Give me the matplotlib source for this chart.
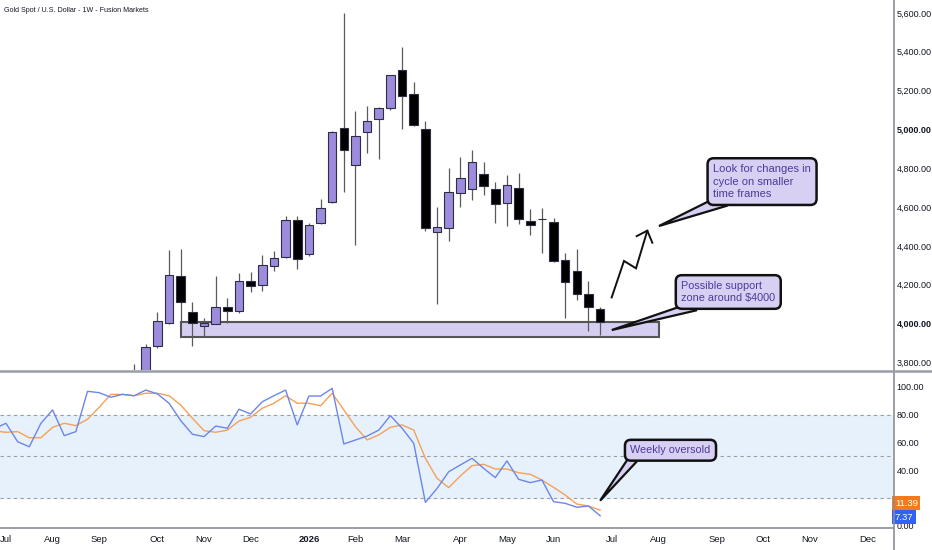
import matplotlib
matplotlib.use("Agg")
import matplotlib.pyplot as plt
from matplotlib.patches import Rectangle, Polygon
from matplotlib.lines import Line2D
import numpy as np

plt.rcParams['font.family'] = ['Liberation Sans Narrow', 'Liberation Sans', 'DejaVu Sans']

# weekly bars, index 0 = first week of Jul 2025
candle_idx = list(range(11, 52))
opens = [3745, 3755, 3883, 4000, 4246, 4060, 3986, 3998, 4083, 4065,
         4220, 4196, 4296, 4341, 4533, 4356, 4519, 4627, 5009, 4815,
         4985, 5052, 5109, 5305, 5181, 5000, 4470, 4490, 4671, 4694,
         4768, 4693, 4619, 4699, 4528, 4540, 4521, 4327, 4270, 4150, 4076]
highs = [3790, 3895, 4057, 4378, 4382, 4109, 4026, 4244, 4129, 4261,
         4263, 4352, 4375, 4554, 4554, 4516, 4641, 4990, 5602, 5095,
         5121, 5114, 5280, 5423, 5243, 5045, 4601, 4799, 4859, 4894,
         4830, 4730, 4763, 4777, 4588, 4593, 4545, 4361, 4382, 4218, 4083]
lows = [3700, 3740, 3875, 3995, 4008, 3885, 3928, 3995, 4000, 4055,
        4163, 4168, 4272, 4335, 4279, 4347, 4515, 4622, 4679, 4404,
        4880, 4846, 5100, 5002, 5017, 4478, 4100, 4425, 4601, 4636,
        4662, 4516, 4504, 4512, 4456, 4364, 4315, 4026, 4121, 3962, 3940]
closes = [3755, 3880, 4014, 4249, 4110, 4004, 4000, 4083, 4062, 4218,
          4194, 4299, 4335, 4533, 4330, 4506, 4593, 4988, 4894, 4966,
          5042, 5109, 5279, 5171, 5021, 4490, 4495, 4676, 4748, 4832,
          4710, 4614, 4715, 4540, 4509, 4537, 4323, 4215, 4151, 4083, 4007]

# stochastic RSI, index -1 .. 51
stoch_idx = list(range(-1, 52))
stoch_k = [70, 73.9, 60.6, 57, 73.9, 83.5, 65, 67.9, 96.9, 95.9,
           92.6, 94.7, 93.7, 97.8, 95, 88.3, 75.8, 66, 64.3, 71.9,
           70.3, 84, 80.6, 89.4, 93.7, 97.8, 72.7, 93.5, 93.5, 99,
           59, 61.9, 64.7, 69, 79.4, 70.3, 59.5, 17, 27, 39,
           43.9, 48.7, 41.5, 34.8, 46.8, 33.6, 31.2, 33.1, 17.5, 16.3,
           13.5, 14.4, 7.37]
stoch_d = [68.4, 67.4, 67.9, 63.5, 63.5, 71, 73.9, 72.2, 76.8, 85.4,
           94.7, 94.7, 93.7, 95.5, 95.5, 93.7, 87, 77.5, 68.6, 67.4,
           69, 75.5, 78.2, 84.7, 88.3, 93.7, 88.3, 88.3, 86.5, 95.5,
           83.5, 71.4, 61.9, 65.5, 71, 72.7, 69, 48.7, 34.3, 27.6,
           36, 43.4, 44.4, 41, 41, 38.3, 37.2, 33.1, 27.8, 22.3,
           15.8, 14.4, 11.39]

month_idx = [0, 4, 8, 13, 17, 21, 26, 30, 34, 39, 43, 47, 52, 56, 61, 65, 69, 74]
month_labels = ['Jul', 'Aug', 'Sep', 'Oct', 'Nov', 'Dec', '2026', 'Feb', 'Mar',
                'Apr', 'May', 'Jun', 'Jul', 'Aug', 'Sep', 'Oct', 'Nov', 'Dec']
price_ticks = [3800, 4000, 4200, 4400, 4600, 4800, 5000, 5200, 5400, 5600]
osc_ticks = [0, 20, 40, 60, 80, 100]

PURPLE = '#9d8bdb'
LAV = '#d8d0f3'
TXT = '#131722'
NOTE = '#4a3b9c'
GRID = '#9a9da6'

W, H = 932, 550
fig = plt.figure(figsize=(W / 100, H / 100), dpi=100)


def px_rect(x0, y0, x1, y1):
    return [x0 / W, 1 - y1 / H, (x1 - x0) / W, (y1 - y0) / H]


ax = fig.add_axes(px_rect(0, 0, 893, 370))
ax2 = fig.add_axes(px_rect(0, 371, 893, 528), sharex=ax)

# candles
o = np.array(opens, float)
c = np.array(closes, float)
up = c >= o
cols = np.where(up, PURPLE, '#000000')
ax.vlines(candle_idx, lows, highs, color='#5a5a5a', lw=0.9, zorder=2)
ax.bar(candle_idx, np.maximum(np.abs(c - o), 2.5), width=0.74,
       bottom=np.minimum(o, c), color=cols, edgecolor='#2f2d45',
       linewidth=0.8, zorder=3)

# support zone
ax.add_patch(Rectangle((15.02, 3930), 41.03, 77, fc='#d6cef0', ec='#555555',
                       lw=1.5, zorder=1))

# zigzag arrow
zx = [51.99, 53.05, 54.08, 55.05]
zy = [4134, 4322, 4284, 4478]
ax.plot(zx, zy, color='#111111', lw=1.4, zorder=4, solid_joinstyle='miter')
ax.plot([54.14, 55.05, 55.48], [4450, 4478, 4416], color='#111111', lw=1.4,
        zorder=4)


def callout(axis, cx, cy, text, tail, size):
    axis.add_patch(Polygon(tail, closed=True, fc=LAV, ec='#111111', lw=1.6,
                           zorder=5, joinstyle='miter'))
    axis.text(cx, cy, text, ha='center', va='center', multialignment='left',
              color=NOTE, fontsize=size, zorder=6, linespacing=1.35,
              bbox=dict(boxstyle='round,pad=0.5,rounding_size=0.55', fc=LAV,
                        ec='#111111', lw=1.8))


callout(ax, 64.9, 4731, 'Look for changes in\ncycle on smaller\ntime frames',
        [(56.05, 4502), (61.0, 4650), (61.8, 4605)], 8.0)
callout(ax, 62.0, 4162, 'Possible support\nzone around $4000',
        [(52.0, 3966), (58.5, 4100), (59.3, 4068)], 7.8)
callout(ax2, 57.04, 54.5, 'Weekly oversold',
        [(51.0, 18.2), (53.6, 51), (54.1, 46)], 7.8)

ax.set_xlim(-0.515, 76.14)
ax.set_ylim(3760, 5667)
ax.yaxis.tick_right()
ax.set_yticks(price_ticks)
ax.set_yticklabels([f'{v:,.2f}' for v in price_ticks])
for lab, v in zip(ax.get_yticklabels(), price_ticks):
    if v in (4000, 5000):
        lab.set_fontweight('bold')
ax.tick_params(axis='y', length=0, pad=2.5, labelsize=6.5, labelcolor=TXT)
ax.tick_params(axis='x', length=0, labelbottom=False)
for s in ax.spines.values():
    s.set_visible(False)

# oscillator panel
ax2.axhspan(20, 80, color='#e7f1fc', zorder=0)
for lvl in (20, 50, 80):
    ax2.axhline(lvl, color=GRID, lw=0.8, ls=(0, (3, 3)), zorder=1)
ax2.plot(stoch_idx, stoch_k, color='#6c86ea', lw=1.0, zorder=3)
ax2.plot(stoch_idx, stoch_d, color='#f6a058', lw=1.0, zorder=2)
ax2.set_ylim(-1.44, 111.5)
ax2.yaxis.tick_right()
ax2.set_yticks(osc_ticks)
ax2.set_yticklabels([f'{v:.2f}' for v in osc_ticks])
ax2.tick_params(axis='y', length=0, pad=2.5, labelsize=6.5, labelcolor=TXT)
ax2.set_xticks(month_idx)
ax2.set_xticklabels(month_labels)
for lab in ax2.get_xticklabels():
    if lab.get_text() == '2026':
        lab.set_fontweight('bold')
ax2.tick_params(axis='x', length=0, pad=5, labelsize=6.8, labelcolor=TXT)
for s in ('top', 'left', 'right'):
    ax2.spines[s].set_visible(False)
ax2.spines['bottom'].set_color('#8a8d96')
ax2.spines['bottom'].set_linewidth(1.2)

# last value badges, stacked like the platform does
tr = ax2.get_yaxis_transform()
ax2.text(1.002, 16.5, f'{stoch_d[-1]:.2f}', transform=tr, ha='left',
         va='center', color='white', fontsize=6.8, zorder=10, clip_on=False,
         bbox=dict(boxstyle='square,pad=0.25', fc='#f57a1c', ec='none'))
ax2.text(1.002, 6.3, f'{stoch_k[-1]:.2f}', transform=tr, ha='left',
         va='center', color='white', fontsize=6.8, zorder=10, clip_on=False,
         bbox=dict(boxstyle='square,pad=0.25', fc='#2f62f5', ec='none'))

# frame lines
fig.add_artist(Line2D([893.5 / W] * 2, [0, 1], color='#8a8d96', lw=1.2))
fig.add_artist(Line2D([0, 1], [1 - 370.5 / H] * 2, color='#9a9da6', lw=1.8))

fig.text(4 / W, 1 - 10 / H, 'Gold Spot / U.S. Dollar - 1W - Fusion Markets',
         ha='left', va='center', fontsize=5.1, color=TXT)

fig.savefig('out.png', dpi=100)
